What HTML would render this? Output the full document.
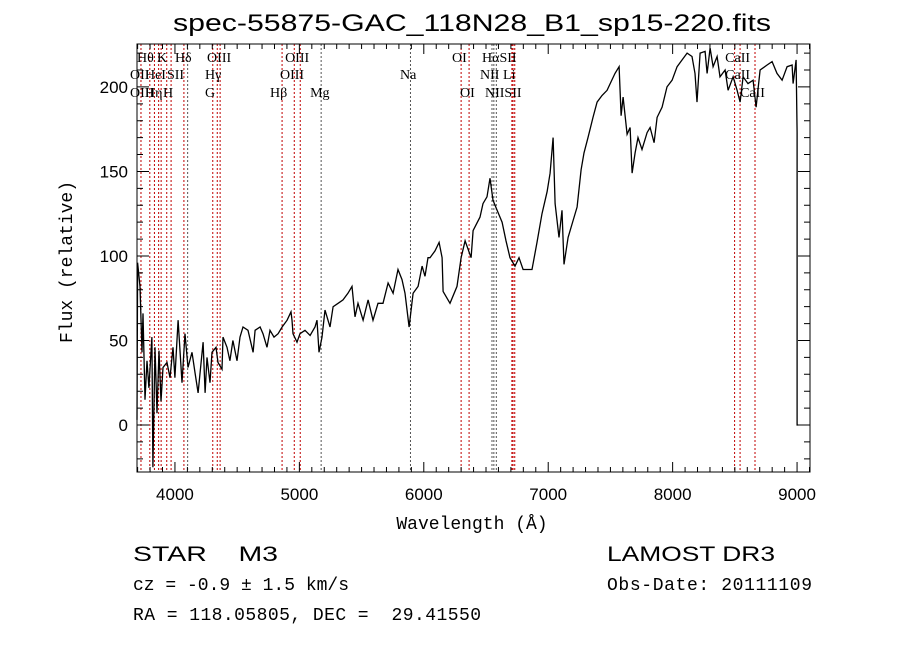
<!DOCTYPE html>
<html><head><meta charset="utf-8"><style>
html,body{margin:0;padding:0;background:#fff;}
svg{display:block;}
text{fill:#000;white-space:pre;}
</style></head><body>
<svg id="chart" width="900" height="649" viewBox="0 0 900 649" xmlns="http://www.w3.org/2000/svg">
<rect width="900" height="649" fill="#fff"/>
<text x="472" y="31" font-family="Liberation Sans, sans-serif" font-size="24" text-anchor="middle" textLength="598" lengthAdjust="spacingAndGlyphs">spec-55875-GAC_118N28_B1_sp15-220.fits</text>
<g id="lines"></g>
<g id="labels" font-family="Liberation Serif, serif" font-size="14"></g>
<path id="spec" fill="none" stroke="#000" stroke-width="1.3"/>
<g id="axes"></g>
<text x="472" y="529" font-family="Liberation Mono, monospace" font-size="18" text-anchor="middle">Wavelength (Å)</text>
<text transform="translate(72,262) rotate(-90)" font-family="Liberation Mono, monospace" font-size="18" text-anchor="middle">Flux (relative)</text>
<text x="133" y="561" font-family="Liberation Sans, sans-serif" font-size="21" textLength="145" lengthAdjust="spacingAndGlyphs" xml:space="preserve">STAR    M3</text>
<text x="133" y="590" font-family="Liberation Mono, monospace" font-size="18" xml:space="preserve">cz = -0.9 ± 1.5 km/s</text>
<text x="133" y="620" font-family="Liberation Mono, monospace" font-size="18" xml:space="preserve" textLength="348">RA = 118.05805, DEC =  29.41550</text>
<text x="607" y="561" font-family="Liberation Sans, sans-serif" font-size="21" textLength="168" lengthAdjust="spacingAndGlyphs">LAMOST DR3</text>
<text x="607" y="590" font-family="Liberation Mono, monospace" font-size="18" textLength="205">Obs-Date: 20111109</text>
</svg>
<script>
const wavelengths=[3695,3700,3719,3735,3743,3759,3775,3791,3815,3823,3840,3856,3872,3888,3904,3936,3960,3984,4000,4025,4057,4081,4105,4137,4161,4186,4202,4226,4242,4258,4282,4298,4330,4346,4378,4386,4418,4442,4466,4499,4523,4547,4587,4628,4644,4684,4708,4740,4764,4796,4829,4861,4901,4933,4941,4949,4981,5005,5045,5086,5126,5142,5158,5182,5206,5230,5246,5271,5311,5351,5391,5423,5447,5471,5512,5552,5592,5632,5672,5713,5753,5793,5825,5849,5882,5914,5954,5986,6010,6034,6050,6090,6123,6147,6155,6211,6267,6300,6332,6380,6396,6452,6476,6508,6532,6556,6589,6629,6661,6693,6733,6765,6798,6870,6910,6950,6991,7015,7039,7055,7087,7111,7127,7160,7200,7232,7264,7288,7320,7360,7393,7433,7473,7505,7537,7570,7586,7602,7634,7658,7674,7698,7722,7754,7795,7819,7851,7875,7915,7955,7996,8036,8076,8116,8156,8180,8196,8221,8261,8277,8301,8325,8357,8381,8422,8446,8486,8518,8542,8566,8606,8647,8671,8703,8759,8799,8839,8880,8920,8960,8968,8992,9000,9000,9008];
const fluxes=[3,96,82,43,66,15,38,22,52,-25,46,7,44,14,34,37,28,46,28,62,25,54,34,43,31,19,31,49,19,40,25,43,46,37,33,52,46,38,50,38,52,58,56,43,56,58,54,46,56,52,54,58,62,67,62,54,49,54,56,53,58,62,43,52,68,62,58,70,72,74,78,82,64,72,62,74,62,72,72,84,78,92,86,78,58,78,82,94,88,99,99,103,108,99,79,72,82,99,109,99,115,123,131,135,146,133,127,120,109,99,94,99,92,92,108,125,138,149,170,131,111,127,95,111,121,129,151,161,170,182,191,195,198,203,208,212,183,194,172,176,149,161,170,163,173,176,167,182,188,200,204,212,216,220,218,208,191,220,221,208,223,212,218,206,210,198,206,198,191,206,202,204,188,210,213,215,208,204,212,213,202,216,173,0,0];
const lineWaves=[3727,3798,3835,3869,3889,3934,3969,4072,4102,4304,4340,4363,4861,4959,5007,5175,5893,6300,6364,6548,6563,6583,6708,6717,6731,8498,8542,8662];
const lineColors=["r","r","r","r","r","r","r","r","k","r","r","r","r","r","r","k","k","r","r","k","k","k","r","r","r","r","r","r"];
const xTicks=[4000,5000,6000,7000,8000,9000];
const yTicks=[0,50,100,150,200];
const labelTexts=["Hθ","K","Hδ","OIII","OIII","OI","HαSII","CaII","OII","HeI","SII","Hγ","OIII","Na","NII","Li","CaII","OIII","Hη","H","G","Hβ","Mg","OI","NIISII","CaII"];
const labelWaves=[3695,3856,4000,4258,4885,6227,6468,8422,3639,3759,3936,4242,4844,5809,6452,6637,8422,3639,3759,3904,4242,4764,5086,6291,6492,8542];
const labelRows=[1,1,1,1,1,1,1,1,2,2,2,2,2,2,2,2,2,3,3,3,3,3,3,3,3,3];

const L=137,R=810,T=44,B=472;
const xMin=3695,xMax=9104,yMin=-27.8,yMax=225.4;
const X=v=>L+(v-xMin)/(xMax-xMin)*(R-L);
const Y=v=>B-(v-yMin)/(yMax-yMin)*(B-T);
const NS="http://www.w3.org/2000/svg";
function mk(tag,parent){const e=document.createElementNS(NS,tag);parent.appendChild(e);return e;}

const lg=document.getElementById('lines');
lineWaves.forEach((w,i)=>{
  const l=mk('line',lg);
  
  
  l.setAttribute('x1',X(w));l.setAttribute('x2',X(w));l.setAttribute('y1',T);l.setAttribute('y2',B);
  l.setAttribute('stroke',lineColors[i]==='r'?'#c00000':'#555');
  l.setAttribute('stroke-width','1');l.setAttribute('stroke-dasharray','2,2');
});
const lb=document.getElementById('labels');
const rowY=[0,62,79,97];
labelTexts.forEach((t,i)=>{
  const e=mk('text',lb);
  
  
  e.setAttribute('x',X(labelWaves[i]));e.setAttribute('y',rowY[labelRows[i]]);
  e.textContent=t;
});
let d='';
wavelengths.forEach((w,i)=>{d+=(i?'L':'M')+X(w).toFixed(1)+','+Y(fluxes[i]).toFixed(1);});
document.getElementById('spec').setAttribute('d',d);
const ax=document.getElementById('axes');
const fr=mk('rect',ax);


fr.setAttribute('x',L);fr.setAttribute('y',T);fr.setAttribute('width',R-L);fr.setAttribute('height',B-T);
fr.setAttribute('fill','none');fr.setAttribute('stroke','#000');fr.setAttribute('stroke-width','1');
let td='';
for(let w=3700;w<=9100;w+=100){const x=X(w);const len=(w%1000===0)?10:5;td+=`M${x},${B}v${-len}M${x},${T}v${len}`;}
for(let v=-20;v<=220;v+=10){const y=Y(v);const len=(v%50===0)?12:6;td+=`M${L},${y}h${len}M${R},${y}h${-len}`;}
const tp=mk('path',ax);


tp.setAttribute('d',td);tp.setAttribute('stroke','#000');tp.setAttribute('stroke-width','1');
xTicks.forEach(v=>{
  const e=mk('text',ax);
  
  
  e.setAttribute('x',X(v));e.setAttribute('y',B+28);e.setAttribute('text-anchor','middle');
  e.setAttribute('font-family','Liberation Sans, sans-serif');e.setAttribute('font-size','17');
  e.textContent=v;
});
yTicks.forEach(v=>{
  const e=mk('text',ax);
  
  
  e.setAttribute('x',L-9);e.setAttribute('y',Y(v)+6);e.setAttribute('text-anchor','end');
  e.setAttribute('font-family','Liberation Sans, sans-serif');e.setAttribute('font-size','17');
  e.textContent=v;
});
</script>
</body></html>
